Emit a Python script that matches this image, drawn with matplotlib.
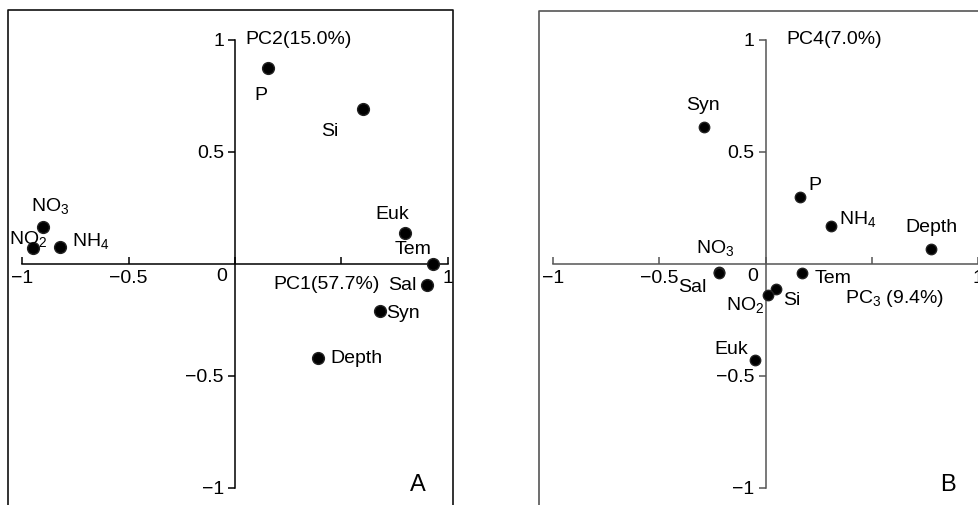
import matplotlib
matplotlib.use("Agg")
import matplotlib.pyplot as plt
from matplotlib.lines import Line2D

plt.rcParams["font.family"] = ["Liberation Sans", "DejaVu Sans"]
plt.rcParams["mathtext.default"] = "regular"
plt.rcParams["axes.unicode_minus"] = True

# panel A: PC1 vs PC2
names_a = ["P", "Si", "Euk", "Tem", "Sal", "Syn", "Depth", "NO$_3$", "NO$_2$", "NH$_4$"]
pc1_a = [0.155, 0.60, 0.80, 0.93, 0.90, 0.68, 0.39, -0.90, -0.95, -0.82]
pc2_a = [0.875, 0.69, 0.14, 0.0, -0.094, -0.21, -0.42, 0.165, 0.07, 0.076]

# panel B: PC3 vs PC4
names_b = ["Syn", "P", "NH$_4$", "Depth", "NO$_3$", "Sal", "Tem", "Si", "NO$_2$", "Euk"]
pc3_b = [-0.29, 0.16, 0.31, 0.78, -0.22, -0.22, 0.17, 0.05, 0.01, -0.05]
pc4_b = [0.61, 0.30, 0.17, 0.067, -0.035, -0.04, -0.04, -0.11, -0.14, -0.43]

# label offsets in pixels (dx, dy), text alignment
offs_a = [(-7, -28, "center"), (-33, -22, "center"), (-13, 18, "center"), (-20, 15, "center"),
          (-10, 0, "right"), (6, -2, "left"), (12, 0, "left"), (7, 21, "center"),
          (-24, 9, "left"), (12, 6, "left")]
offs_b = [(-1, 22, "center"), (9, 11, "left"), (8, 7, "left"), (0, 21, "center"),
          (-4, 24, "center"), (-26, -15, "center"), (13, -6, "left"), (7, -12, "left"),
          (-22, -10, "center"), (-24, 11, "center")]

W, H = 979, 505
fig = plt.figure(figsize=(W / 100, H / 100), dpi=100)
FS = 14


def frame(x0, x1, y0, color, right=True):
    xs = [x0 / W, x0 / W, x1 / W]
    ys = [0, 1 - y0 / H, 1 - y0 / H]
    if right:
        xs.append(x1 / W)
        ys.append(0)
    fig.add_artist(Line2D(xs, ys, color=color, lw=1.2))


def panel(px0, px1, names, xs, ys, offs, xlab, xlab_pos, ylab, ylab_x, letter, col, ms):
    ax = fig.add_axes([px0 / W, (H - 488) / H, (px1 - px0) / W, (488 - 40) / H])
    ax.set_xlim(-1, 1)
    ax.set_ylim(-1, 1)
    ax.patch.set_visible(False)
    for s in ["top", "right"]:
        ax.spines[s].set_visible(False)
    for s in ["left", "bottom"]:
        ax.spines[s].set_position(("data", 0))
        ax.spines[s].set_color(col)
        ax.spines[s].set_linewidth(1.1)
    ax.set_xticks([-1, -0.5, 0, 0.5, 1])
    ax.set_xticklabels(["−1", "−0.5", "", "", "1"])
    ax.set_yticks([-1, -0.5, 0.5, 1])
    ax.set_yticklabels(["−1", "−0.5", "0.5", "1"])
    ax.tick_params(axis="x", direction="in", length=5, width=1.1, color=col, pad=4, labelsize=FS)
    ax.tick_params(axis="y", direction="out", length=5, width=1.1, color=col, pad=3, labelsize=FS)
    ax.annotate("0", (0, 0), xytext=(-13, -4), textcoords="offset pixels",
                ha="center", va="top", fontsize=FS)

    ax.plot(xs, ys, "o", color="black", mec="#222222", ms=ms, ls="none", clip_on=False, zorder=3)
    for n, x, y, (dx, dy, ha) in zip(names, xs, ys, offs):
        ax.annotate(n, (x, y), xytext=(dx, dy), textcoords="offset pixels",
                    ha=ha, va="center", fontsize=FS)

    ax.text(xlab_pos[0], xlab_pos[1], xlab, ha="left", va="center", fontsize=FS)
    ax.text(ylab_x, 1.0, ylab, ha="left", va="center", fontsize=FS)
    ax.text(0.86, -0.985, letter, ha="center", va="center", fontsize=17)
    return ax


frame(8, 453, 10, "#111111")
frame(539, 990, 11, "#555555", right=False)

panel(22, 448, names_a, pc1_a, pc2_a, offs_a, "PC1(57.7%)", (0.18, -0.09),
      "PC2(15.0%)", 0.047, "A", "black", 8.5)
panel(553, 978, names_b, pc3_b, pc4_b, offs_b, "PC$_3$ (9.4%)", (0.375, -0.156),
      "PC4(7.0%)", 0.10, "B", "#555555", 7.5)

fig.savefig("out.png", dpi=100)
